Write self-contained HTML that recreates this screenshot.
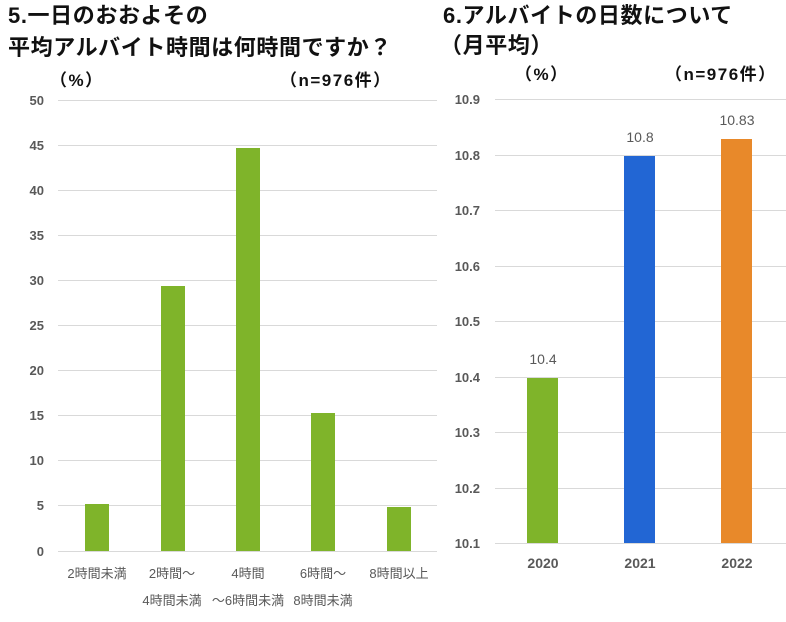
<!DOCTYPE html>
<html><head><meta charset="utf-8"><style>
html,body{margin:0;padding:0;background:#fff;}
svg{display:block;font-family:"Liberation Sans","Noto Sans CJK JP",sans-serif;}
.t{font-weight:bold;font-size:22px;fill:#111;letter-spacing:0.6px;}
.u{font-weight:bold;font-size:17px;fill:#111;letter-spacing:1.5px;}
.y{font-weight:bold;font-size:13px;fill:#595959;}
.x{font-size:13px;fill:#595959;}
.v{font-size:14px;fill:#595959;}
.g{stroke:#d9d9d9;stroke-width:1;}
</style></head><body>
<svg width="786" height="622" viewBox="0 0 786 622">
<rect width="786" height="622" fill="#fff"/>
<text class="t" x="8" y="23">5.一日のおおよその</text>
<text class="t" x="8" y="55">平均アルバイト時間は何時間ですか？</text>
<text class="u" x="50" y="86">（%）</text>
<text class="u" x="280" y="86">（n=976件）</text>
<g class="g">
<line x1="58" y1="100.5" x2="437" y2="100.5"/><line x1="58" y1="145.5" x2="437" y2="145.5"/>
<line x1="58" y1="190.5" x2="437" y2="190.5"/><line x1="58" y1="235.5" x2="437" y2="235.5"/>
<line x1="58" y1="280.5" x2="437" y2="280.5"/><line x1="58" y1="325.5" x2="437" y2="325.5"/>
<line x1="58" y1="370.5" x2="437" y2="370.5"/><line x1="58" y1="415.5" x2="437" y2="415.5"/>
<line x1="58" y1="460.5" x2="437" y2="460.5"/><line x1="58" y1="505.5" x2="437" y2="505.5"/>
<line x1="58" y1="551.5" x2="437" y2="551.5"/>
</g>
<g class="y" text-anchor="end">
<text x="44" y="105">50</text><text x="44" y="150">45</text><text x="44" y="195">40</text>
<text x="44" y="240">35</text><text x="44" y="285">30</text><text x="44" y="330">25</text>
<text x="44" y="375">20</text><text x="44" y="420">15</text><text x="44" y="465">10</text>
<text x="44" y="510">5</text><text x="44" y="556">0</text>
</g>
<g fill="#7fb42a">
<rect x="85" y="504" width="24" height="47"/>
<rect x="161" y="286" width="24" height="265"/>
<rect x="236" y="148" width="24" height="403"/>
<rect x="311" y="413" width="24" height="138"/>
<rect x="387" y="507" width="24" height="44"/>
</g>
<g class="x" text-anchor="middle">
<text x="97" y="578">2時間未満</text>
<text x="172" y="578">2時間～</text><text x="172" y="605">4時間未満</text>
<text x="248" y="578">4時間</text><text x="248" y="605">～6時間未満</text>
<text x="323" y="578">6時間～</text><text x="323" y="605">8時間未満</text>
<text x="399" y="578">8時間以上</text>
</g>

<text class="t" x="443" y="23">6.アルバイトの日数について</text>
<text class="t" x="440" y="53">（月平均）</text>
<text class="u" x="515" y="80">（%）</text>
<text class="u" x="665" y="80">（n=976件）</text>
<g class="g">
<line x1="495" y1="99.5" x2="786" y2="99.5"/><line x1="495" y1="155.5" x2="786" y2="155.5"/>
<line x1="495" y1="210.5" x2="786" y2="210.5"/><line x1="495" y1="266.5" x2="786" y2="266.5"/>
<line x1="495" y1="321.5" x2="786" y2="321.5"/><line x1="495" y1="377.5" x2="786" y2="377.5"/>
<line x1="495" y1="432.5" x2="786" y2="432.5"/><line x1="495" y1="488.5" x2="786" y2="488.5"/>
<line x1="495" y1="543.5" x2="786" y2="543.5"/>
</g>
<g class="y" text-anchor="end">
<text x="480" y="104">10.9</text><text x="480" y="160">10.8</text><text x="480" y="215">10.7</text>
<text x="480" y="271">10.6</text><text x="480" y="326">10.5</text><text x="480" y="382">10.4</text>
<text x="480" y="437">10.3</text><text x="480" y="493">10.2</text><text x="480" y="548">10.1</text>
</g>
<rect x="527" y="378" width="31" height="165" fill="#7fb42a"/>
<rect x="624" y="156" width="31" height="387" fill="#2266d4"/>
<rect x="721" y="139" width="31" height="404" fill="#e8892a"/>
<g class="v" text-anchor="middle">
<text x="543" y="364">10.4</text><text x="640" y="142">10.8</text><text x="737" y="125">10.83</text>
</g>
<g class="y" text-anchor="middle" style="font-size:14px">
<text x="543" y="568">2020</text><text x="640" y="568">2021</text><text x="737" y="568">2022</text>
</g>
</svg>
</body></html>
